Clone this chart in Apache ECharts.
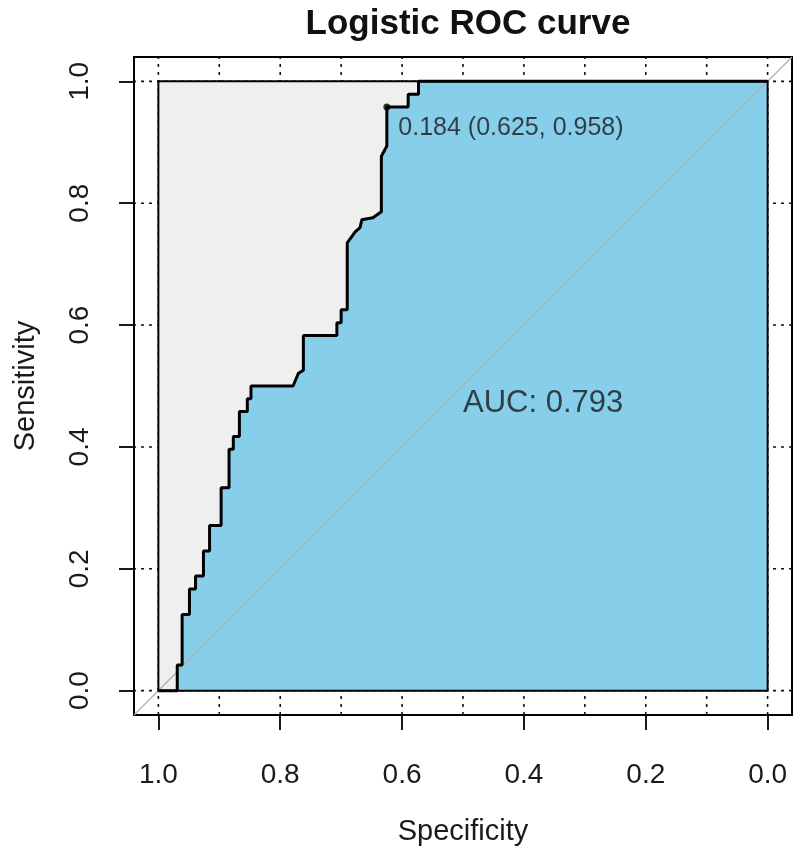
<!DOCTYPE html>
<html>
<head>
<meta charset="utf-8">
<script src="https://cdn.jsdelivr.net/npm/echarts@6/dist/echarts.min.js"></script>
<style>html,body{margin:0;padding:0;background:#fff}#c{width:800px;height:853px}</style>
</head>
<body>
<div id="c"></div>
<script>
// ---- data ----
const specificity = [1.000,0.969,0.969,0.961,0.961,0.949,0.949,0.939,0.939,0.926,0.926,0.916,0.916,0.897,0.897,0.884,0.884,0.877,0.877,0.867,0.867,0.854,0.854,0.848,0.848,0.779,0.770,0.762,0.762,0.707,0.707,0.700,0.700,0.690,0.690,0.677,0.669,0.666,0.648,0.634,0.634,0.625,0.625,0.590,0.590,0.573,0.573,0.000];
const sensitivity = [0.000,0.000,0.042,0.042,0.125,0.125,0.167,0.167,0.188,0.188,0.229,0.229,0.271,0.271,0.333,0.333,0.396,0.396,0.417,0.417,0.458,0.458,0.479,0.479,0.500,0.500,0.521,0.526,0.583,0.583,0.604,0.604,0.625,0.625,0.735,0.753,0.760,0.773,0.776,0.786,0.877,0.894,0.958,0.958,0.979,0.979,1.000,1.000];
const tickValues = [0, 0.2, 0.4, 0.6, 0.8, 1.0];
const xGridValues = [0,0.1,0.2,0.3,0.4,0.5,0.6,0.7,0.8,0.9,1.0];
const yGridValues = [0,0.2,0.4,0.6,0.8,1.0];
const bestThreshold = 0.184, bestSpec = 0.625, bestSens = 0.958;
const aucValue = 0.793;
const titleText = 'Logistic ROC curve';
const xName = 'Specificity', yName = 'Sensitivity';

const curve = specificity.map((s, i) => [s, sensitivity[i]]);
const FONT = '"Liberation Sans", Arial, sans-serif';
const LO = -0.04, HI = 1.04;

function polygon(points, fill, stroke, lw, z) {
  return {
    type: 'custom', coordinateSystem: 'cartesian2d', z: z, silent: true, clip: false,
    data: [[0, 0]],
    renderItem: function (params, api) {
      return { type: 'polygon', z2: z, shape: { points: points.map(p => api.coord(p)) },
        style: { fill: fill, stroke: stroke, lineWidth: lw } };
    }
  };
}
const dotted = { color: '#111', width: 1.6, type: [3, 5] };
function gridLine(pts) {
  return { type: 'line', data: pts, z: 1, silent: true, symbol: 'none', lineStyle: dotted };
}

const chart = echarts.init(document.getElementById('c'), null, { renderer: 'canvas' });
const square = [[1,0],[1,1],[0,1],[0,0]];

const series = [];
xGridValues.forEach(v => series.push(gridLine([[v, LO], [v, HI]])));
yGridValues.forEach(v => series.push(gridLine([[LO, v], [HI, v]])));
series.push(
  polygon(square, '#EFEFEF', null, 0, 2),
  polygon(curve.concat([[0, 0]]), '#87CEEB', null, 0, 3),
  { type: 'line', data: [[HI, LO], [LO, HI]], z: 5, silent: true, symbol: 'none',
    lineStyle: { color: '#b0b0b0', width: 1.2 } },
  polygon(square, null, '#000', 2, 6),
  { type: 'line', data: curve, z: 7, silent: true, symbol: 'none',
    lineStyle: { color: '#000', width: 3 } },
  { type: 'scatter', data: [[bestSpec, bestSens]], z: 8, silent: true, symbolSize: 7,
    itemStyle: { color: '#000' },
    label: { show: true, position: [15, 12], align: 'left', verticalAlign: 'top',
      fontFamily: FONT, fontSize: 25, color: '#1a1a1a',
      formatter: () => bestThreshold.toFixed(3) + ' (' + bestSpec.toFixed(3) + ', ' + bestSens.toFixed(3) + ')' } },
  { type: 'scatter', data: [[0.5, 0.5]], z: 8, silent: true, symbolSize: 0,
    label: { show: true, position: [0, 2], align: 'left', verticalAlign: 'top',
      fontFamily: FONT, fontSize: 31, color: '#1a1a1a',
      formatter: () => 'AUC: ' + aucValue.toFixed(3) } }
);

chart.setOption({
  animation: false,
  backgroundColor: '#fff',
  title: { text: titleText, left: 463, top: 2, textAlign: 'center',
    textStyle: { fontFamily: FONT, fontSize: 35, fontWeight: 'bold', color: '#111' } },
  grid: { left: 134, top: 57, width: 658, height: 658, show: true, borderColor: '#000', borderWidth: 2, backgroundColor: 'transparent' },
  xAxis: {
    type: 'value', min: LO, max: HI, inverse: true,
    name: xName, nameLocation: 'middle', nameGap: 102,
    nameTextStyle: { fontFamily: FONT, fontSize: 29, color: '#1a1a1a' },
    axisLine: { show: true, onZero: false, lineStyle: { color: '#000', width: 2 } },
    axisTick: { show: true, inside: false, length: 15, customValues: tickValues, lineStyle: { color: '#000', width: 1.8 } },
    axisLabel: { customValues: tickValues, margin: 46, fontFamily: FONT, fontSize: 28, color: '#1a1a1a', formatter: v => v.toFixed(1) },
    splitLine: { show: false }
  },
  yAxis: {
    type: 'value', min: LO, max: HI,
    name: yName, nameLocation: 'middle', nameGap: 94, nameRotate: 90,
    nameTextStyle: { fontFamily: FONT, fontSize: 29, color: '#1a1a1a' },
    axisLine: { show: true, onZero: false, lineStyle: { color: '#000', width: 2 } },
    axisTick: { show: true, inside: false, length: 15, customValues: tickValues, lineStyle: { color: '#000', width: 1.8 } },
    axisLabel: { customValues: tickValues, rotate: 90, margin: 40, fontFamily: FONT, fontSize: 28, color: '#1a1a1a', formatter: v => v.toFixed(1) },
    splitLine: { show: false }
  },
  series: series
});
</script>
</body>
</html>
